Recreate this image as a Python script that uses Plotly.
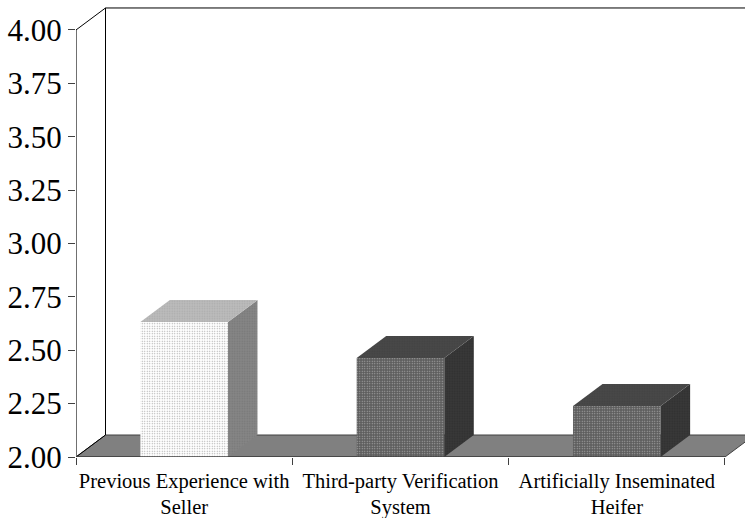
import plotly.graph_objects as go

categories = ["Previous Experience with<br>Seller", "Third-party Verification<br>System", "Artificially Inseminated<br>Heifer"]
values = [2.632, 2.464, 2.239]
y_ticks = [2.00, 2.25, 2.50, 2.75, 3.00, 3.25, 3.50, 3.75, 4.00]

front_bg = ["#ffffff", "#5e5e5e", "#5e5e5e"]
front_fg = ["#aaaaaa", "#4c4c4c", "#4c4c4c"]
top_bg = ["#bcbcbc", "#484848", "#484848"]
top_fg = ["#989898", "#3a3a3a", "#3a3a3a"]
side_bg = ["#868686", "#383838", "#383838"]
side_fg = ["#666666", "#262626", "#262626"]

FONT = "Liberation Serif"
DX = 29.5 / 216.33
DY = 22 / 213.5
BAR_W = 0.405
X_MIN, X_MAX = -0.5, 2.5
X_END = 2.5925
Y_MIN, Y_MAX = 2.0, 4.0
Y_END = 4.117

fig = go.Figure()

# floor
fig.add_trace(go.Scatter(
    x=[X_MIN, X_MAX, X_MAX + DX, X_MIN + DX, X_MIN],
    y=[Y_MIN, Y_MIN, Y_MIN + DY, Y_MIN + DY, Y_MIN],
    mode="lines", fill="toself", fillcolor="#808080",
    line=dict(color="#404040", width=1), xaxis="x", yaxis="y", hoverinfo="skip"))

# front faces
fig.add_trace(go.Bar(
    x=categories, y=values, width=BAR_W, xaxis="x2", yaxis="y",
    marker=dict(color=front_bg, line=dict(width=0),
                pattern=dict(shape=".", bgcolor=front_bg, fgcolor=front_fg,
                             size=2.5, solidity=0.2))))

# side and top faces
for i, v in enumerate(values):
    l, r = i - BAR_W / 2, i + BAR_W / 2
    fig.add_trace(go.Scatter(
        x=[r, r + DX, r + DX, r, r], y=[Y_MIN, Y_MIN + DY, v + DY, v, Y_MIN],
        mode="lines", line=dict(width=0), fill="toself", fillcolor=side_bg[i],
        fillpattern=dict(shape=".", bgcolor=side_bg[i], fgcolor=side_fg[i], size=2.5, solidity=0.3),
        xaxis="x3", yaxis="y", hoverinfo="skip"))
    fig.add_trace(go.Scatter(
        x=[l, r, r + DX, l + DX, l], y=[v, v, v + DY, v + DY, v],
        mode="lines", line=dict(width=0), fill="toself", fillcolor=top_bg[i],
        fillpattern=dict(shape=".", bgcolor=top_bg[i], fgcolor=top_fg[i], size=2.5, solidity=0.3),
        xaxis="x3", yaxis="y", hoverinfo="skip"))

# walls and axis lines
fig.add_trace(go.Scatter(
    x=[X_MIN, X_MIN + DX, None, X_MIN + DX, X_MIN + DX, X_END, None, X_MIN, X_MIN + DX],
    y=[Y_MAX, Y_MAX + DY, None, Y_MIN + DY, Y_MAX + DY, Y_MAX + DY, None, Y_MIN, Y_MIN + DY],
    mode="lines", line=dict(color="#000000", width=1),
    xaxis="x3", yaxis="y", cliponaxis=False, hoverinfo="skip"))
fig.add_trace(go.Scatter(
    x=[X_MIN, X_MIN, None, X_MIN, X_MAX], y=[Y_MIN, Y_MAX, None, Y_MIN, Y_MIN],
    mode="lines", line=dict(color="#404040", width=1.5),
    xaxis="x3", yaxis="y", cliponaxis=False, hoverinfo="skip"))

fig.update_layout(
    width=745, height=518, showlegend=False, autosize=False,
    paper_bgcolor="#ffffff", plot_bgcolor="#ffffff",
    margin=dict(l=76, r=0, t=5, b=61, autoexpand=False),
    font=dict(family=FONT, color="#000000"),
    xaxis=dict(range=[X_MIN, X_END], visible=False, type="linear", automargin=False),
    xaxis2=dict(type="category", overlaying="x", side="bottom", automargin=False,
                categoryorder="array", categoryarray=categories,
                range=[X_MIN, X_END], tickson="boundaries", tickangle=0,
                ticks="outside", ticklen=7, tickcolor="#404040", tickwidth=1,
                showgrid=False, zeroline=False, showline=False, ticklabelstandoff=9,
                tickfont=dict(family=FONT, size=20.5, color="#000000")),
    xaxis3=dict(range=[X_MIN, X_END], overlaying="x", visible=False, type="linear", automargin=False),
    yaxis=dict(range=[Y_MIN, Y_END], tickmode="array", tickvals=y_ticks, automargin=False,
               ticktext=[f"{t:.2f}" for t in y_ticks], ticks="outside", ticklen=7,
               tickcolor="#404040", tickwidth=1, showgrid=False, zeroline=False,
               showline=False, tickfont=dict(family=FONT, size=31, color="#000000")),
)

fig.write_html("out.html", post_script="document.body.style.margin='0';",
               config={"displayModeBar": False})
